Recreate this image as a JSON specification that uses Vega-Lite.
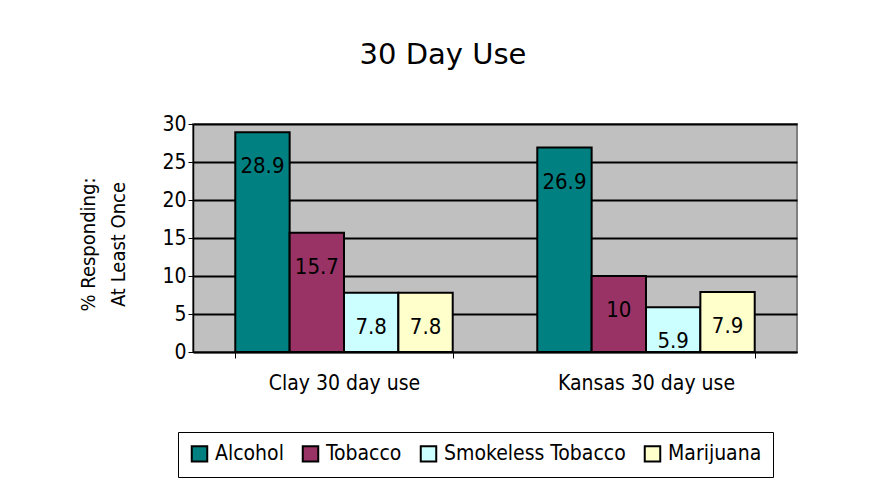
{
  "$schema": "https://vega.github.io/schema/vega-lite/v6.json",
  "autosize": {"type": "none"},
  "padding": {"left": 193, "top": 124, "right": 74, "bottom": 146},
  "width": 604,
  "height": 228,
  "background": "white",
  "title": {
    "text": "30 Day Use",
    "font": "DejaVu Sans",
    "fontSize": 29,
    "fontWeight": "normal",
    "color": "black",
    "anchor": "middle",
    "dx": -52,
    "offset": 43
  },
  "data": {
    "values": [
      {"group": "Clay 30 day use", "substance": "Alcohol", "value": 28.9},
      {"group": "Clay 30 day use", "substance": "Tobacco", "value": 15.7},
      {"group": "Clay 30 day use", "substance": "Smokeless Tobacco", "value": 7.8},
      {"group": "Clay 30 day use", "substance": "Marijuana", "value": 7.8},
      {"group": "Kansas 30 day use", "substance": "Alcohol", "value": 26.9},
      {"group": "Kansas 30 day use", "substance": "Tobacco", "value": 10},
      {"group": "Kansas 30 day use", "substance": "Smokeless Tobacco", "value": 5.9},
      {"group": "Kansas 30 day use", "substance": "Marijuana", "value": 7.9}
    ]
  },
  "encoding": {
    "x": {
      "field": "group",
      "type": "nominal",
      "scale": {"paddingInner": 0.28, "paddingOuter": 0.14},
      "axis": {
        "title": null,
        "labelAngle": 0,
        "labelFont": "DejaVu Sans Condensed",
        "labelFontSize": 21,
        "labelColor": "black",
        "labelPadding": 14,
        "labelLimit": 0,
        "domainColor": "black",
        "domainWidth": 1.5,
        "tickColor": "black",
        "tickBand": "extent",
        "tickSize": 6,
        "ticks": true
      }
    },
    "xOffset": {
      "field": "substance",
      "type": "nominal",
      "sort": ["Alcohol", "Tobacco", "Smokeless Tobacco", "Marijuana"],
      "scale": {"paddingInner": 0, "paddingOuter": 0}
    },
    "y": {
      "field": "value",
      "type": "quantitative",
      "scale": {"domain": [0, 30], "nice": false},
      "axis": {
        "values": [0, 5, 10, 15, 20, 25, 30],
        "title": ["% Responding:", "At Least Once"],
        "titleFont": "DejaVu Sans Condensed",
        "titleFontSize": 20,
        "titleFontWeight": "normal",
        "titleColor": "black",
        "titleX": -95,
        "titleY": 120,
        "titleLineHeight": 30,
        "labelFont": "DejaVu Sans Condensed",
        "labelFontSize": 21,
        "labelColor": "black",
        "labelPadding": 2,
        "domainColor": "black",
        "domainWidth": 1.5,
        "tickColor": "black",
        "tickSize": 5,
        "grid": true,
        "gridColor": "black",
        "gridWidth": 2
      }
    }
  },
  "layer": [
    {
      "mark": {"type": "bar", "stroke": "black", "strokeWidth": 2},
      "encoding": {
        "color": {
          "field": "substance",
          "type": "nominal",
          "sort": ["Alcohol", "Tobacco", "Smokeless Tobacco", "Marijuana"],
          "scale": {
            "domain": ["Alcohol", "Tobacco", "Smokeless Tobacco", "Marijuana"],
            "range": ["#008080", "#993366", "#CCFFFF", "#FFFFCC"]
          },
          "legend": {
            "title": null,
            "orient": "none",
            "direction": "horizontal",
            "legendX": -15,
            "legendY": 308,
            "strokeColor": "black",
            "padding": 11,
            "symbolType": "square",
            "symbolSize": 240,
            "symbolStrokeColor": "black",
            "symbolStrokeWidth": 2,
            "symbolOpacity": 1,
            "labelFont": "DejaVu Sans Condensed",
            "labelFontSize": 21,
            "labelLimit": 0,
            "labelColor": "black",
            "labelOffset": 5,
            "columnPadding": 14
          }
        }
      }
    },
    {
      "mark": {
        "type": "text",
        "baseline": "middle",
        "dy": 34,
        "font": "DejaVu Sans Condensed",
        "fontSize": 22,
        "color": "black"
      },
      "encoding": {"text": {"field": "value", "type": "quantitative"}}
    }
  ],
  "config": {
    "view": {"fill": "#C0C0C0", "stroke": "#808080", "strokeWidth": 2}
  }
}
